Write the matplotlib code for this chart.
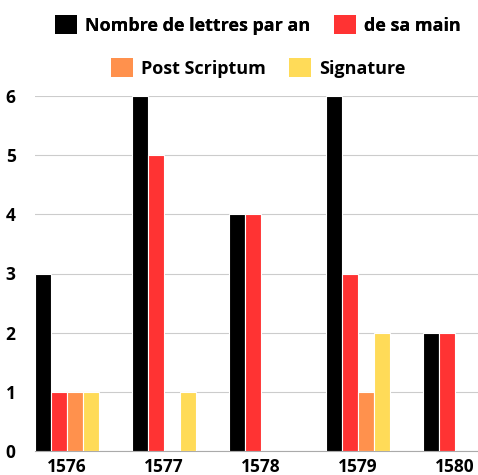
import matplotlib
matplotlib.use("Agg")
import matplotlib.pyplot as plt
from matplotlib.patches import Patch
import numpy as np

years = ["1576", "1577", "1578", "1579", "1580"]
series_names = ["Nombre de lettres par an", "de sa main", "Post Scriptum", "Signature"]
lettres = [3, 6, 4, 6, 2]
main = [1, 5, 4, 3, 2]
post_scriptum = [1, 0, 0, 1, 0]
signature = [1, 1, 0, 2, 0]
values = [lettres, main, post_scriptum, signature]
colors = ["#000000", "#ff3333", "#ff914d", "#ffdb58"]

plt.rcParams['font.family'] = ['Open Sans', 'DejaVu Sans']
plt.rcParams['font.weight'] = 'bold'

fig = plt.figure(figsize=(4.78, 4.75), dpi=100)
ax = fig.add_axes([35/478, 1-451/475, 1-35/478, (451-96)/475])

x = np.arange(len(years))
w = 0.165
for i, (vals, c) in enumerate(zip(values, colors)):
    ax.bar(x + (i - 1.5) * w, vals, width=w, color=c, edgecolor="white",
           linewidth=0.8, zorder=3)

ax.set_ylim(0, 6)
ax.set_xlim(-0.33, 4.237)
ax.set_yticks(range(7))
ax.set_xticks(x)
ax.set_xticklabels(years, fontsize=12.5, fontweight='bold')
ax.set_yticklabels([str(v) for v in range(7)], fontsize=12.5, fontweight='bold')
ax.grid(axis='y', color='#cccccc', linewidth=0.8, zorder=0)
for s in ['top', 'right', 'left']:
    ax.spines[s].set_visible(False)
ax.spines['bottom'].set_color('#aaaaaa')
ax.tick_params(axis='x', length=0, pad=5)
ax.tick_params(axis='y', length=0, pad=14)

h = [Patch(facecolor=c) for c in colors]
kw = dict(ncol=2, frameon=False, prop={'weight': 'bold', 'size': 13},
          handlelength=1.2, handleheight=1.2, handletextpad=0.45, columnspacing=1.3)
leg1 = fig.legend(h[:2], series_names[:2], loc='center', bbox_to_anchor=(258/478, 1-25/475), **kw)
leg2 = fig.legend(h[2:], series_names[2:], loc='center', bbox_to_anchor=(258/478, 1-68/475), **kw)
fig.add_artist(leg1)

fig.savefig("out.png", dpi=100)
